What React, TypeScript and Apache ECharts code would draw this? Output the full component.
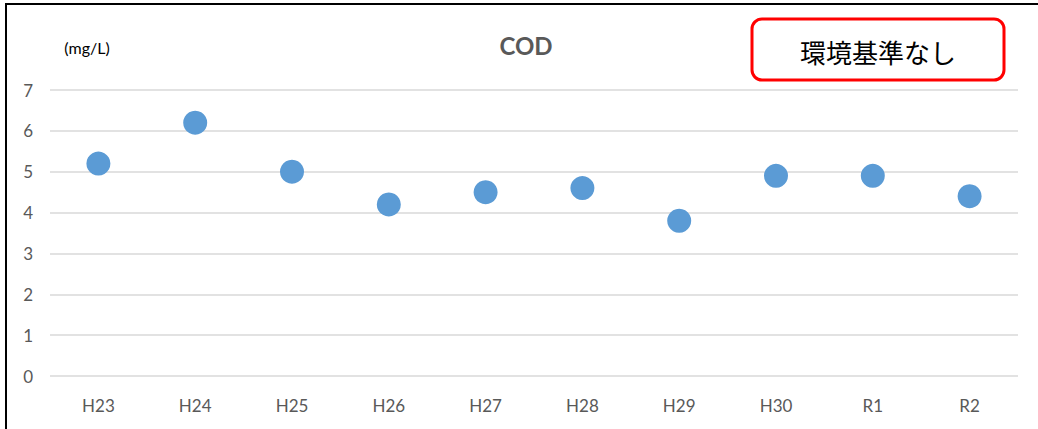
import React, { useEffect, useRef } from "react";
import * as echarts from "echarts";

const categories = ["H23", "H24", "H25", "H26", "H27", "H28", "H29", "H30", "R1", "R2"];
const codValues = [5.2, 6.2, 5.0, 4.2, 4.5, 4.6, 3.8, 4.9, 4.9, 4.4];
const yTicks = [0, 1, 2, 3, 4, 5, 6, 7];
const titleText = "COD";
const unitText = "(mg/L)";
const noteText = "環境基準なし";

const FONT = "Lato, 'Open Sans', 'Liberation Sans', sans-serif";

export default function App() {
  const ref = useRef<HTMLDivElement>(null);
  useEffect(() => {
    if (!ref.current) return;
    const chart = echarts.init(ref.current, null, { renderer: "svg" });
    chart.setOption({
      animation: false,
      backgroundColor: "#ffffff",
      graphic: [
        {
          type: "rect",
          shape: { x: 6, y: 4, width: 1040, height: 440 },
          style: { fill: "none", stroke: "#000000", lineWidth: 2 },
          silent: true,
        },
        {
          type: "text",
          x: 526,
          y: 45,
          style: {
            text: titleText,
            fill: "#595959",
            font: `bold 24px ${FONT}`,
            align: "center",
            verticalAlign: "middle",
          },
        },
        {
          type: "text",
          x: 87,
          y: 47,
          style: {
            text: unitText,
            fill: "#000000",
            font: `16px ${FONT}`,
            align: "center",
            verticalAlign: "middle",
          },
        },
        {
          type: "rect",
          shape: { x: 752, y: 19, width: 252, height: 61, r: 10 },
          style: { fill: "#ffffff", stroke: "#ff0000", lineWidth: 3 },
        },
        {
          type: "text",
          x: 878,
          y: 51,
          style: {
            text: noteText,
            fill: "#000000",
            font: `26px 'Noto Sans CJK JP', sans-serif`,
            align: "center",
            verticalAlign: "middle",
          },
        },
      ],
      grid: { left: 50, right: 20, top: 90, bottom: 53, containLabel: false },
      xAxis: {
        type: "category",
        data: categories,
        boundaryGap: true,
        axisLine: { show: false },
        axisTick: { show: false },
        axisLabel: { color: "#595959", fontFamily: FONT, fontSize: 17, margin: 21 },
      },
      yAxis: {
        type: "value",
        min: yTicks[0],
        max: yTicks[yTicks.length - 1],
        interval: 1,
        axisLine: { show: false },
        axisTick: { show: false },
        axisLabel: { color: "#595959", fontFamily: FONT, fontSize: 17, margin: 17 },
        splitLine: { lineStyle: { color: "#d9d9d9", width: 1.5 } },
      },
      series: [
        {
          type: "scatter",
          data: codValues,
          symbol: "circle",
          symbolSize: 24,
          itemStyle: { color: "#5b9bd5", opacity: 1 },
        },
      ],
    });
    return () => chart.dispose();
  }, []);
  return (
    <div
      ref={ref}
      style={{ position: "fixed", left: 0, top: 0, width: 1038, height: 429 }}
    />
  );
}
